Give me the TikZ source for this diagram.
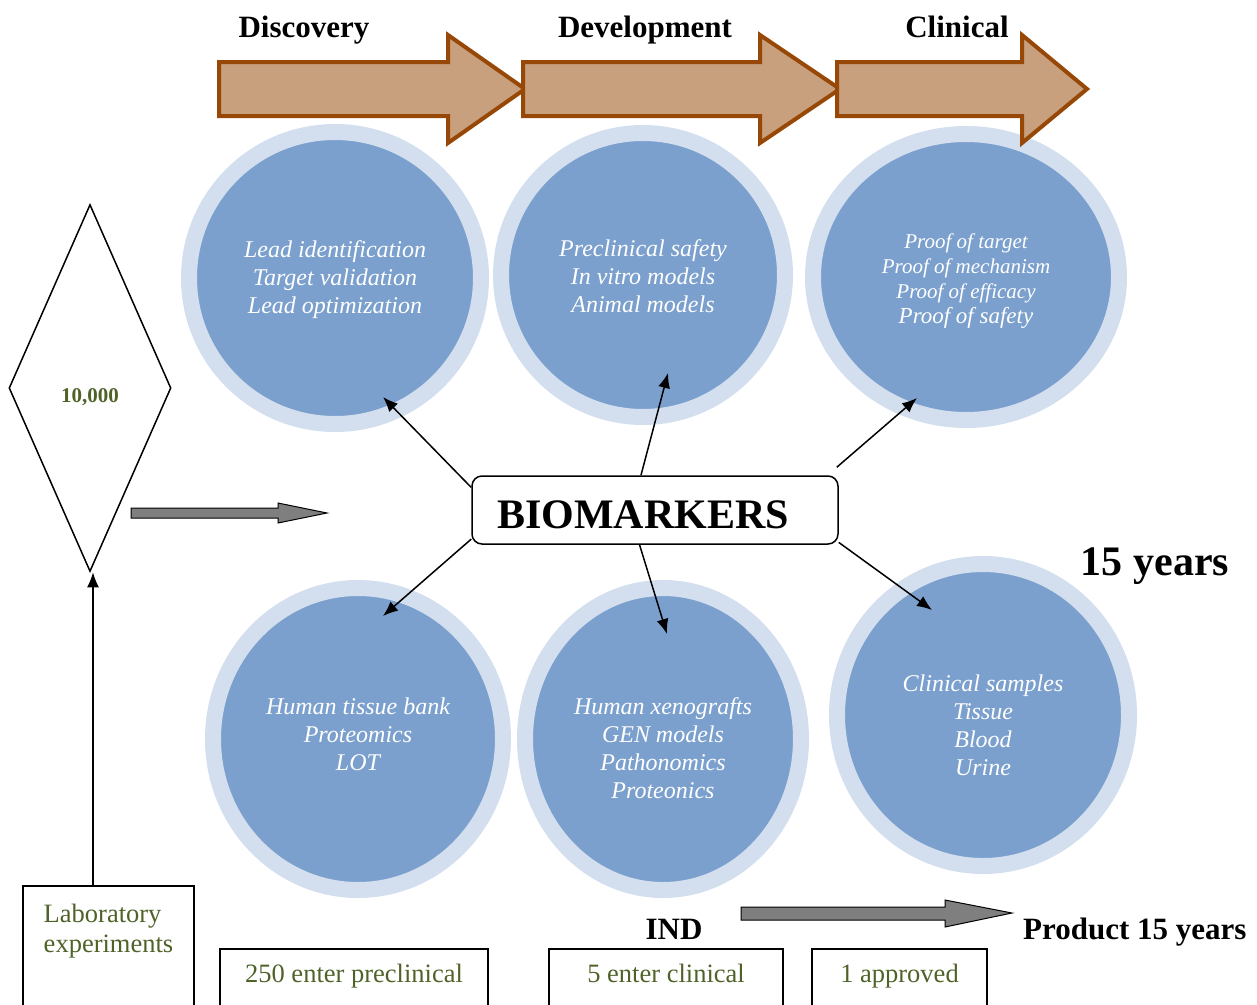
\documentclass[tikz,border=0pt]{standalone}
\usepackage{fontspec}
\setmainfont{Liberation Serif}
\usetikzlibrary{arrows.meta,shapes.geometric}
\definecolor{ringblue}{HTML}{D3DFEE}
\definecolor{innerblue}{HTML}{7BA0CD}
\definecolor{arrowtan}{HTML}{C8A07E}
\definecolor{arrowbrown}{HTML}{984806}
\definecolor{arrowgrey}{HTML}{7F7F7F}
\definecolor{olivetext}{HTML}{4F6228}

\begin{document}
\begin{tikzpicture}[x=1pt, y=-1pt,
    ring/.style={ellipse, draw=ringblue, line width=16pt, fill=innerblue, inner sep=0pt, text depth=0pt,
        text=white, align=center, font=\fontsize{24}{28}\selectfont\itshape},
    stage/.style={draw=arrowbrown, line width=4pt, fill=arrowtan},
    flow/.style={draw=black, line width=1pt, fill=arrowgrey},
    heading/.style={anchor=base, inner sep=0pt, font=\fontsize{31}{36}\selectfont\bfseries},
    countbox/.style={draw, line width=1.5pt, anchor=north, align=center, text=olivetext,
        font=\fontsize{26.5}{30}\selectfont, inner ysep=0pt, text height=34pt, text depth=100pt},
    pointer/.style={-{Latex[length=15pt,width=12pt]}, line width=1.5pt}
]
\useasboundingbox (0,0) rectangle (1257,1004);

\node[ring, minimum width=292pt, minimum height=292pt, text height=70pt] (lead) at (335,278)
    {Lead identification\\Target validation\\Lead optimization};
\node[ring, minimum width=284pt, minimum height=284pt, text height=74pt] (safety) at (643,275)
    {Preclinical safety\\In vitro models\\Animal models};
\node[ring, minimum width=306pt, minimum height=286pt, text height=92pt, font=\fontsize{21}{25}\selectfont\itshape] (proof) at (966,277)
    {Proof of target\\Proof of mechanism\\Proof of efficacy\\{\fontsize{23}{25}\selectfont Proof of safety}};
\node[ring, minimum width=290pt, minimum height=302pt, text height=62pt] (tissue) at (358,739)
    {Human tissue bank\\Proteomics\\LOT};
\node[ring, minimum width=276pt, minimum height=302pt, text height=118pt] (xeno) at (663,739)
    {Human xenografts\\GEN models\\Pathonomics\\Proteonics};
\node[ring, minimum width=292pt, minimum height=302pt, text height=120pt] (samples) at (983,715)
    {Clinical samples\\Tissue\\Blood\\Urine};

\draw[stage] (219,62) -- (448,62) -- (448,35) -- (525,89) -- (448,143) -- (448,116) -- (219,116) -- cycle;
\draw[stage] (523,62) -- (760,62) -- (760,35) -- (840,89) -- (760,143) -- (760,116) -- (523,116) -- cycle;
\draw[stage] (837,62) -- (1022,62) -- (1022,35) -- (1087,89) -- (1022,143) -- (1022,116) -- (837,116) -- cycle;

\node[heading] (discovery) at (304,37) {Discovery};
\node[heading] (development) at (645,37) {Development};
\node[heading] (clinical) at (957,37) {Clinical};

\node[diamond, draw, line width=1.5pt, minimum width=162pt, minimum height=367pt, inner sep=0pt,
    text height=28pt, text depth=0pt, text=olivetext, font=\fontsize{21}{24}\selectfont\bfseries] (count) at (90,388) {10,000};
\draw[flow] (131,508) -- (278,508) -- (278,503) -- (327,513) -- (278,523) -- (278,518) -- (131,518) -- cycle;

\node[draw, line width=1.5pt, rounded corners=10pt, minimum height=68pt, text width=316pt, align=left,
    inner xsep=25pt, inner ysep=0pt, text height=36pt, text depth=0pt,
    font=\fontsize{42}{48}\selectfont\bfseries] (bio) at (655,510) {BIOMARKERS};

\draw[pointer] (bio.173) -- ([shift={(48,119)}]lead.center);
\draw[pointer] (bio.112) -- ([shift={(25,98)}]safety.center);
\draw[pointer] ([shift={(-2,-8)}]bio.north east) -- ([shift={(-49,121)}]proof.center);
\draw[pointer] (bio.189) -- ([shift={(25,-123)}]tissue.center);
\draw[pointer] (bio.-114) -- ([shift={(4,-105)}]xeno.center);
\draw[pointer] (bio.-10) -- ([shift={(-51,-105)}]samples.center);

\node[heading, font=\fontsize{42}{48}\selectfont\bfseries] (years) at (1155,575) {15 years};

\node[countbox, minimum width=171pt, text height=67pt, align=left] (lab) at (108.5,885) {Laboratory\\experiments};
\draw[pointer] ([xshift=3pt]lab.north -| count.south) -- ([xshift=3pt]count.south);

\node[countbox, minimum width=268pt] (preclin) at (354,948) {250 enter preclinical};
\node[countbox, minimum width=234pt] (enterclin) at (666,948) {5 enter clinical};
\node[countbox, minimum width=175pt] (approved) at (899.5,948) {1 approved};

\node[heading] (ind) at (674,939) {IND};
\draw[flow] (741,907) -- (945,907) -- (945,900) -- (1012,913) -- (945,927) -- (945,920) -- (741,920) -- cycle;
\node[heading, anchor=base west] (product) at (1023,939) {Product 15 years};
\end{tikzpicture}
\end{document}
